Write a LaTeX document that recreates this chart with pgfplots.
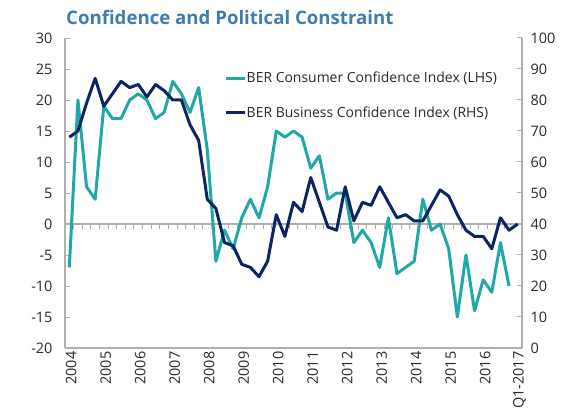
\documentclass[border=0pt]{standalone}
\usepackage{fontspec}
\setmainfont{Open Sans}
\usepackage{pgfplots}
\usepackage{pgfplotstable}
\pgfplotsset{compat=1.18}
\definecolor{teal1}{RGB}{32,168,166}
\definecolor{navy1}{RGB}{12,35,100}
\definecolor{titleblue}{RGB}{62,124,177}
\definecolor{axgray}{RGB}{175,175,175}
\definecolor{txt}{RGB}{40,40,40}

\pgfplotstableread{
i c
0 -7
1 20
2 6
3 4
4 19
5 17
6 17
7 20
8 21
9 20
10 17
11 18
12 23
13 21
14 18
15 22
16 12
17 -6
18 -1
19 -4
20 1
21 4
22 1
23 6
24 15
25 14
26 15
27 14
28 9
29 11
30 4
31 5
32 5
33 -3
34 -1
35 -3
36 -7
37 1
38 -8
39 -7
40 -6
41 4
42 -1
43 0
44 -4
45 -15
46 -5
47 -14
48 -9
49 -11
50 -3
51 -10
}\consumer

\pgfplotstableread{
i b
0 68
1 70
2 79
3 87
4 78
5 82
6 86
7 84
8 85
9 81
10 85
11 83
12 80
13 80
14 72
15 67
16 48
17 45
18 34
19 33
20 27
21 26
22 23
23 28
24 43
25 36
26 47
27 44
28 55
29 47
30 39
31 38
32 52
33 41
34 47
35 46
36 52
37 47
38 42
39 43
40 41
41 41
42 46
43 51
44 49
45 43
46 38
47 36
48 36
49 32
50 42
51 38
52 40
}\business

\pgfplotsset{
  base/.style={
    scale only axis, width=457bp, height=310bp,
    at={(65bp,67bp)}, anchor=south west,
    xmin=-0.5, xmax=52.5,
    axis line style={axgray, line width=1.3bp},
    major tick length=5bp,
    tick style={axgray, line width=1bp},
    ticklabel style={font=\fontsize{14.5}{16}\selectfont, text=txt},
    /pgf/number format/assume math mode=true,
  },
}

\begin{document}
\begin{tikzpicture}
\useasboundingbox (0bp,0bp) rectangle (563bp,415bp);
\node[anchor=base west, inner sep=0pt, text=titleblue,
      font=\bfseries\fontsize{18.7}{22}\selectfont] at (66bp,390bp)
      {Confidence and Political Constraint};

% zero line with category ticks
\begin{axis}[base, ymin=-20, ymax=30,
  hide y axis, axis x line*=middle,
  xtick={-0.5,0.5,...,52.5}, xticklabels={},
  x tick style={axgray, line width=1bp},
  xtick align=outside]
\end{axis}

% LHS axis
\begin{axis}[base, ymin=-20, ymax=30,
  axis y line*=left, axis x line*=bottom,
  ytick={-20,-15,...,30},
  ytick align=inside,
  yticklabel style={xshift=-9bp},
  xtick={0,4,...,52},
  xticklabels={2004,2005,2006,2007,2008,2009,2010,2011,2012,2013,2014,2015,2016,Q1-2017},
  x tick style={draw=none},
  xticklabel style={rotate=90, anchor=east, yshift=-2bp},
  ]
\addplot[teal1, line width=3bp, line join=round] table[x=i, y=c] {\consumer};
\end{axis}

% RHS axis
\begin{axis}[base, ymin=0, ymax=100,
  axis y line*=right, hide x axis,
  ytick={0,10,...,100},
  ytick align=inside,
  yticklabel style={xshift=5bp},
  legend style={draw=none, fill=none, at={(axis description cs:0.348,0.892)},
     anchor=north west, inner sep=0pt, row sep=21bp,
     font=\fontsize{14}{16}\selectfont, text=txt,
     nodes={inner sep=0.5bp}},
  legend cell align=left,
  legend image code/.code={\draw[#1] (0bp,0bp) -- (19bp,0bp);},
  ]
\addlegendimage{teal1, line width=3bp}
\addlegendentry{BER Consumer Confidence Index (LHS)}
\addplot[navy1, line width=3bp, line join=round] table[x=i, y=b] {\business};
\addlegendentry{BER Business Confidence Index (RHS)}
\end{axis}
\end{tikzpicture}
\end{document}
